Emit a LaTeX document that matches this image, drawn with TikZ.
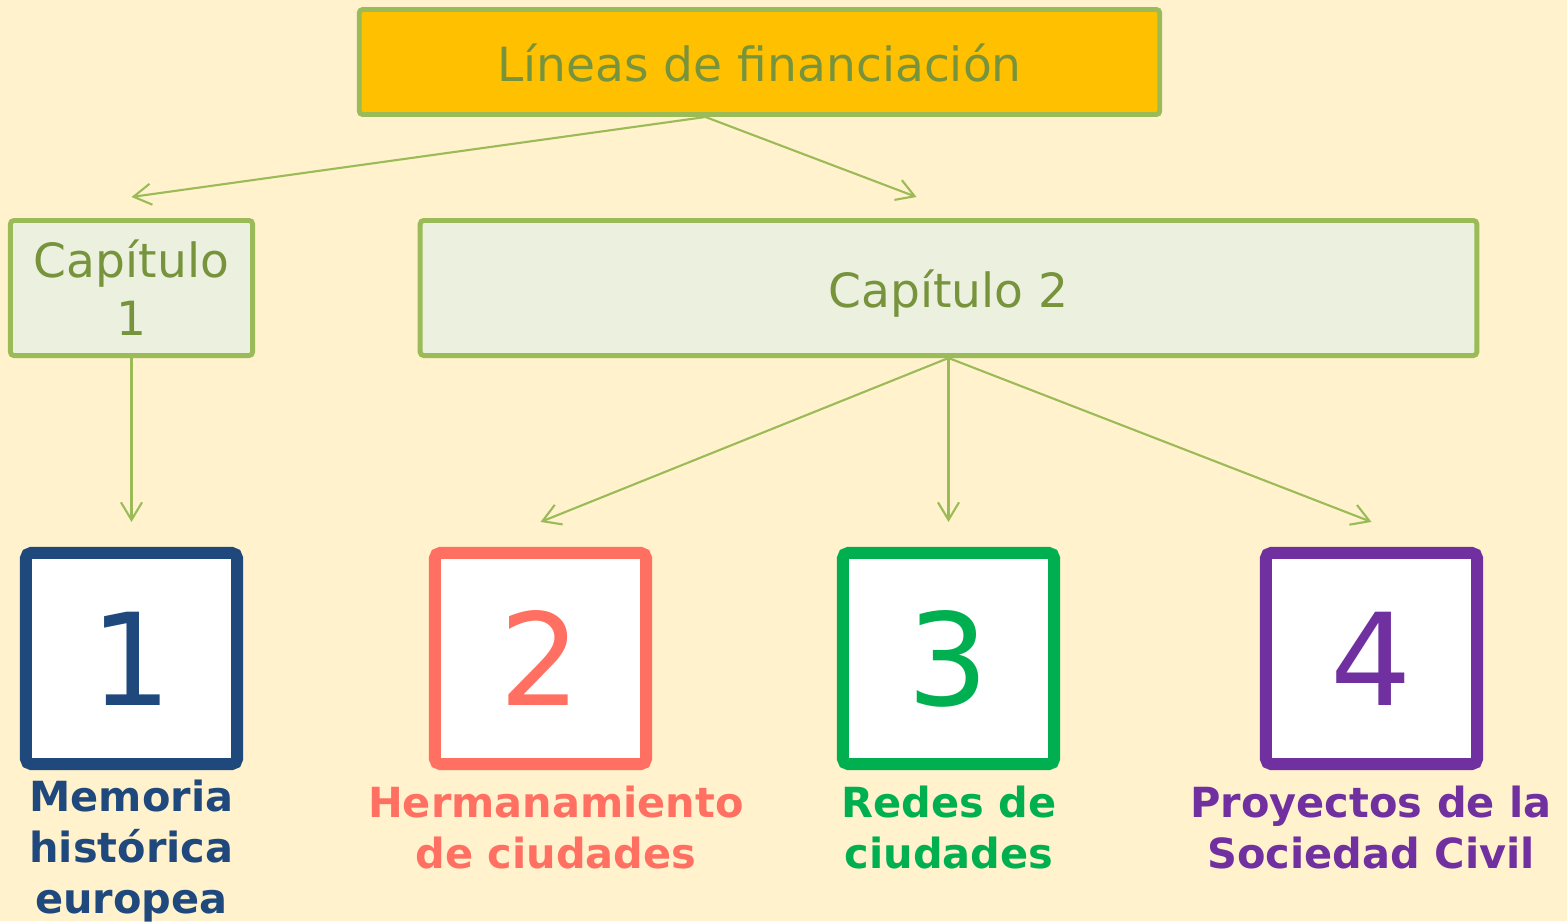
\documentclass[tikz,border=0pt]{standalone}
\usepackage{fontspec}
\setmainfont{DejaVu Sans}
\usetikzlibrary{arrows.meta}
\definecolor{fondo}{HTML}{FFF2CC}
\definecolor{oro}{HTML}{FFC000}
\definecolor{verde}{HTML}{9BBB59}
\definecolor{verdeclaro}{HTML}{EBF1DE}
\definecolor{olivo}{HTML}{77933C}
\definecolor{azul}{HTML}{1F497D}
\definecolor{coral}{HTML}{FF7062}
\definecolor{verdeok}{HTML}{00B050}
\definecolor{morado}{HTML}{7030A0}
\tikzset{
	caja/.style={draw=verde,fill=verdeclaro,text=olivo,line width=1.4pt,rounded corners=1pt,inner sep=0pt,align=center,font=\fontsize{13.4}{16.5}\selectfont},
	numero/.style={draw=#1,text=#1,fill=white,line width=3.4pt,rounded corners=1.5pt,minimum size=2.11cm,inner sep=0pt,text height=0.93cm,text depth=0pt,font=\fontsize{36.4}{40}\selectfont},
	etiqueta/.style={text=#1,anchor=north,inner sep=0pt,align=center,font=\bfseries\fontsize{11.8}{14.5}\selectfont},
	flecha/.style={draw=verde,line width=0.6pt,-{Straight Barb[length=5pt,width=6pt]}}
}
\begin{document}
\begin{tikzpicture}[x=0.01cm,y=-0.01cm]
		\useasboundingbox[fill=fondo] (0,0) rectangle (1567,921);
		\node[caja,fill=oro,minimum width=8cm,minimum height=1.05cm,text height=0.38cm,text depth=0pt] (lineas) at (759.5,62) {Líneas de financiación};
		\node[caja,minimum width=2.42cm,minimum height=1.35cm] (cap1) at (131.5,288) {Capítulo\\1};
		\node[caja,minimum width=10.56cm,minimum height=1.35cm,text height=0.38cm,text depth=0pt] (cap2) at (948.5,288) {Capítulo 2};
		\node[numero=azul] (n1) at (131.5,658.5) {1};
		\node[numero=coral] (n2) at (540.5,658.5) {2};
		\node[numero=verdeok] (n3) at (948.5,658.5) {3};
		\node[numero=morado] (n4) at (1371.5,658.5) {4};
		\node[etiqueta=azul] (t1) at (131.5,779.5) {Memoria\\histórica\\europea};
		\node[etiqueta=coral] (t2) at (556,785.5) {Hermanamiento\\de ciudades};
		\node[etiqueta=verdeok] (t3) at (949,785.5) {Redes de\\ciudades};
		\node[etiqueta=morado] (t4) at (1371,785.5) {Proyectos de la\\Sociedad Civil};
		\draw[flecha] ([xshift=-0.54cm]lineas.south) -- ([yshift=0.21cm]cap1.north);
		\draw[flecha] ([xshift=-0.54cm]lineas.south) -- ([shift={(-32,-21)}]cap2.north);
		\draw[flecha] (cap1.south) -- ([yshift=0.25cm]n1.north);
		\draw[flecha] (cap2.south) -- ([yshift=0.25cm]n2.north);
		\draw[flecha] (cap2.south) -- ([yshift=0.25cm]n3.north);
		\draw[flecha] (cap2.south) -- ([yshift=0.25cm]n4.north);
\end{tikzpicture}
\end{document}
